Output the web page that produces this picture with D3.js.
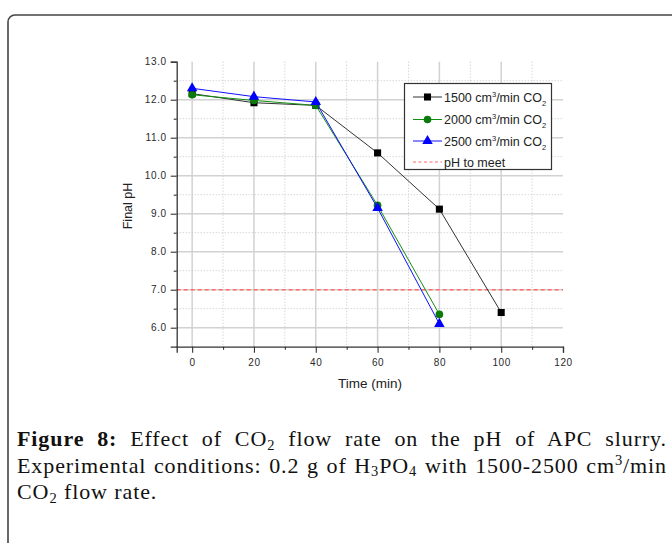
<!DOCTYPE html>
<html>
<head>
<meta charset="utf-8">
<script src="https://cdn.jsdelivr.net/npm/d3@7/dist/d3.min.js"></script>
<style>
  html, body { margin: 0; padding: 0; background: #fff; }
  svg { display: block; }
</style>
</head>
<body>
<script>
// ---- data ----
const times1500 = [0, 20, 40, 60, 80, 100];
const ph1500 = [12.16, 11.92, 11.85, 10.6, 9.12, 6.4];
const times2000 = [0, 20, 40, 60, 80];
const ph2000 = [12.13, 11.98, 11.85, 9.22, 6.35];
const times2500 = [0, 20, 40, 60, 80];
const ph2500 = [12.3, 12.08, 11.94, 9.15, 6.1];
const phTarget = 7.0;
const xMajorTicks = [0, 20, 40, 60, 80, 100, 120];
const xMinorTicks = [10, 30, 50, 70, 90, 110];
const yMajorTicks = [6, 7, 8, 9, 10, 11, 12, 13];
const yMinorTicks = [6.5, 7.5, 8.5, 9.5, 10.5, 11.5, 12.5];
const seriesNames = ["1500", "2000", "2500"];

const W = 672, H = 543;
const svg = d3.select("body").append("svg").attr("width", W).attr("height", H);

// frame
svg.append("rect").attr("x", 8).attr("y", 15).attr("width", 700).attr("height", 600)
  .attr("rx", 7).attr("fill", "none").attr("stroke", "#444").attr("stroke-width", 1.6);

const plot = { left: 176.7, right: 563, top: 61.7, bottom: 346.7 };
const x = d3.scaleLinear().domain([-5, 120]).range([plot.left, plot.right]);
const y = d3.scaleLinear().domain([5.5, 13]).range([plot.bottom, plot.top]);

const g = svg.append("g");

// grid
g.selectAll(".vmaj").data(xMajorTicks.filter(d => d < 120)).enter().append("line")
  .attr("x1", d => x(d)).attr("x2", d => x(d)).attr("y1", plot.top).attr("y2", plot.bottom)
  .attr("stroke", "#d2d2d2").attr("stroke-width", 1.5);
g.selectAll(".vmin").data(xMinorTicks).enter().append("line")
  .attr("x1", d => x(d)).attr("x2", d => x(d)).attr("y1", plot.top).attr("y2", plot.bottom)
  .attr("stroke", "#c4c4c4").attr("stroke-width", 1).attr("stroke-dasharray", "1,2");
g.selectAll(".hmaj").data(yMajorTicks.filter(d => d < 13)).enter().append("line")
  .attr("x1", plot.left).attr("x2", plot.right).attr("y1", d => y(d)).attr("y2", d => y(d))
  .attr("stroke", "#d2d2d2").attr("stroke-width", 1.5);
g.selectAll(".hmin").data(yMinorTicks).enter().append("line")
  .attr("x1", plot.left).attr("x2", plot.right).attr("y1", d => y(d)).attr("y2", d => y(d))
  .attr("stroke", "#c4c4c4").attr("stroke-width", 1).attr("stroke-dasharray", "1,2");

// target line
g.append("line").attr("x1", plot.left).attr("x2", plot.right)
  .attr("y1", y(phTarget)).attr("y2", y(phTarget))
  .attr("stroke", "#ff6b6b").attr("stroke-width", 1.5).attr("stroke-dasharray", "4,3");

// axes
const tickFont = "'Liberation Sans', Arial, sans-serif";
g.append("g").attr("transform", `translate(${plot.left},0)`)
  .call(d3.axisLeft(y).tickValues(yMajorTicks).tickSize(6).tickPadding(4).tickFormat(d3.format(".1f")));
g.append("g").attr("transform", `translate(${plot.left},0)`)
  .call(d3.axisLeft(y).tickValues(yMinorTicks).tickSize(3).tickFormat(""))
  .select(".domain").remove();
g.append("g").attr("transform", `translate(0,${plot.bottom})`)
  .call(d3.axisBottom(x).tickValues(xMajorTicks).tickSize(6).tickPadding(6).tickFormat(d3.format("d")));
g.append("g").attr("transform", `translate(0,${plot.bottom})`)
  .call(d3.axisBottom(x).tickValues(xMinorTicks).tickSize(3).tickFormat(""))
  .select(".domain").remove();
g.selectAll(".domain").attr("stroke", "#333").attr("stroke-width", 1.3);
g.selectAll(".tick line").attr("stroke", "#333").attr("stroke-width", 1.1);
g.selectAll(".tick text").attr("font-family", tickFont).attr("font-size", 10)
  .attr("fill", "#2a2a2a").attr("letter-spacing", 0.6);

// axis titles
svg.append("text").attr("x", 370).attr("y", 388).attr("text-anchor", "middle")
  .attr("font-family", tickFont).attr("font-size", 13.5).attr("fill", "#222").text("Time (min)");
svg.append("text").attr("transform", "translate(132,206) rotate(-90)").attr("text-anchor", "middle")
  .attr("font-family", tickFont).attr("font-size", 12.5).attr("fill", "#222").text("Final pH");

// series
const series = [
  { t: times1500, v: ph1500, line: "#333", fill: "#000", sym: d3.symbolSquare, size: 50 },
  { t: times2000, v: ph2000, line: "#109010", fill: "#0a7a0a", sym: d3.symbolCircle, size: 46 },
  { t: times2500, v: ph2500, line: "#1010ff", fill: "#0000ff", sym: d3.symbolTriangle, size: 48 }
];
const lineGen = d3.line().x(d => x(d[0])).y(d => y(d[1]));
series.forEach(s => {
  const pts = s.t.map((t, i) => [t, s.v[i]]);
  g.append("path").datum(pts).attr("d", lineGen).attr("fill", "none")
    .attr("stroke", s.line).attr("stroke-width", 1);
  g.selectAll(null).data(pts).enter().append("path")
    .attr("d", d3.symbol().type(s.sym).size(s.size))
    .attr("transform", d => `translate(${x(d[0])},${y(d[1])})`)
    .attr("fill", s.fill);
});

// legend
const lg = svg.append("g");
lg.append("rect").attr("x", 404.5).attr("y", 83.5).attr("width", 147).attr("height", 86)
  .attr("fill", "#fff").attr("stroke", "#333").attr("stroke-width", 1.2);
const rowY = [97, 119.5, 141, 162];
series.forEach((s, i) => {
  lg.append("line").attr("x1", 413).attr("x2", 442).attr("y1", rowY[i]).attr("y2", rowY[i])
    .attr("stroke", s.line).attr("stroke-width", 1);
  lg.append("path").attr("d", d3.symbol().type(s.sym).size(s.size))
    .attr("transform", `translate(427.5,${rowY[i]})`).attr("fill", s.fill);
  const tx = lg.append("text").attr("x", 444).attr("y", rowY[i] + 4.5)
    .attr("font-family", tickFont).attr("font-size", 12.5).attr("fill", "#222");
  tx.append("tspan").text(seriesNames[i] + " cm");
  tx.append("tspan").attr("font-size", 7.5).attr("dy", -5).text("3");
  tx.append("tspan").attr("dy", 5).text("/min CO");
  tx.append("tspan").attr("font-size", 7.5).attr("dy", 4).text("2");
});
lg.append("line").attr("x1", 413).attr("x2", 442).attr("y1", rowY[3]).attr("y2", rowY[3])
  .attr("stroke", "#ff6b6b").attr("stroke-width", 1.2).attr("stroke-dasharray", "3,2.5");
lg.append("text").attr("x", 444).attr("y", rowY[3] + 4.5)
  .attr("font-family", tickFont).attr("font-size", 12.5).attr("fill", "#222").text("pH to meet");

// caption
const capFont = "'Liberation Serif', 'Times New Roman', serif";
const capSize = 22;
const capLines = [
  { y: 446, justify: 667, segs: [
    { t: "Figure 8:", b: true }, { t: " Effect of CO" }, { t: "2", sub: true },
    { t: " flow rate on the pH of APC slurry." }] },
  { y: 472.5, justify: 667, segs: [
    { t: "Experimental conditions: 0.2 g of H" }, { t: "3", sub: true }, { t: "PO" },
    { t: "4", sub: true }, { t: " with 1500-2500 cm" }, { t: "3", sup: true }, { t: "/min" }] },
  { y: 499, justify: null, segs: [
    { t: "CO" }, { t: "2", sub: true }, { t: " flow rate." }] }
];
const capX = 17;
capLines.forEach(L => {
  const te = svg.append("text").attr("x", capX).attr("y", L.y)
    .attr("font-family", capFont).attr("font-size", capSize).attr("fill", "#111")
    .attr("letter-spacing", 0.9)
    .style("white-space", "pre");
  let shift = 0;
  L.segs.forEach(s => {
    const ts = te.append("tspan").text(s.t);
    let target = 0;
    if (s.sub) { target = 3.5; ts.attr("font-size", capSize * 0.66); }
    if (s.sup) { target = -7.5; ts.attr("font-size", capSize * 0.66); }
    if (s.b) ts.attr("font-weight", "bold");
    if (target !== shift) { ts.attr("dy", target - shift); shift = target; }
  });
  if (L.justify) {
    const w = te.node().getComputedTextLength();
    const nSpaces = L.segs.map(s => (s.t.match(/ /g) || []).length).reduce((a, b) => a + b, 0);
    const extra = Math.max(0, (L.justify - capX - w) / nSpaces);
    te.style("word-spacing", extra + "px");
  }
});
</script>
</body>
</html>
